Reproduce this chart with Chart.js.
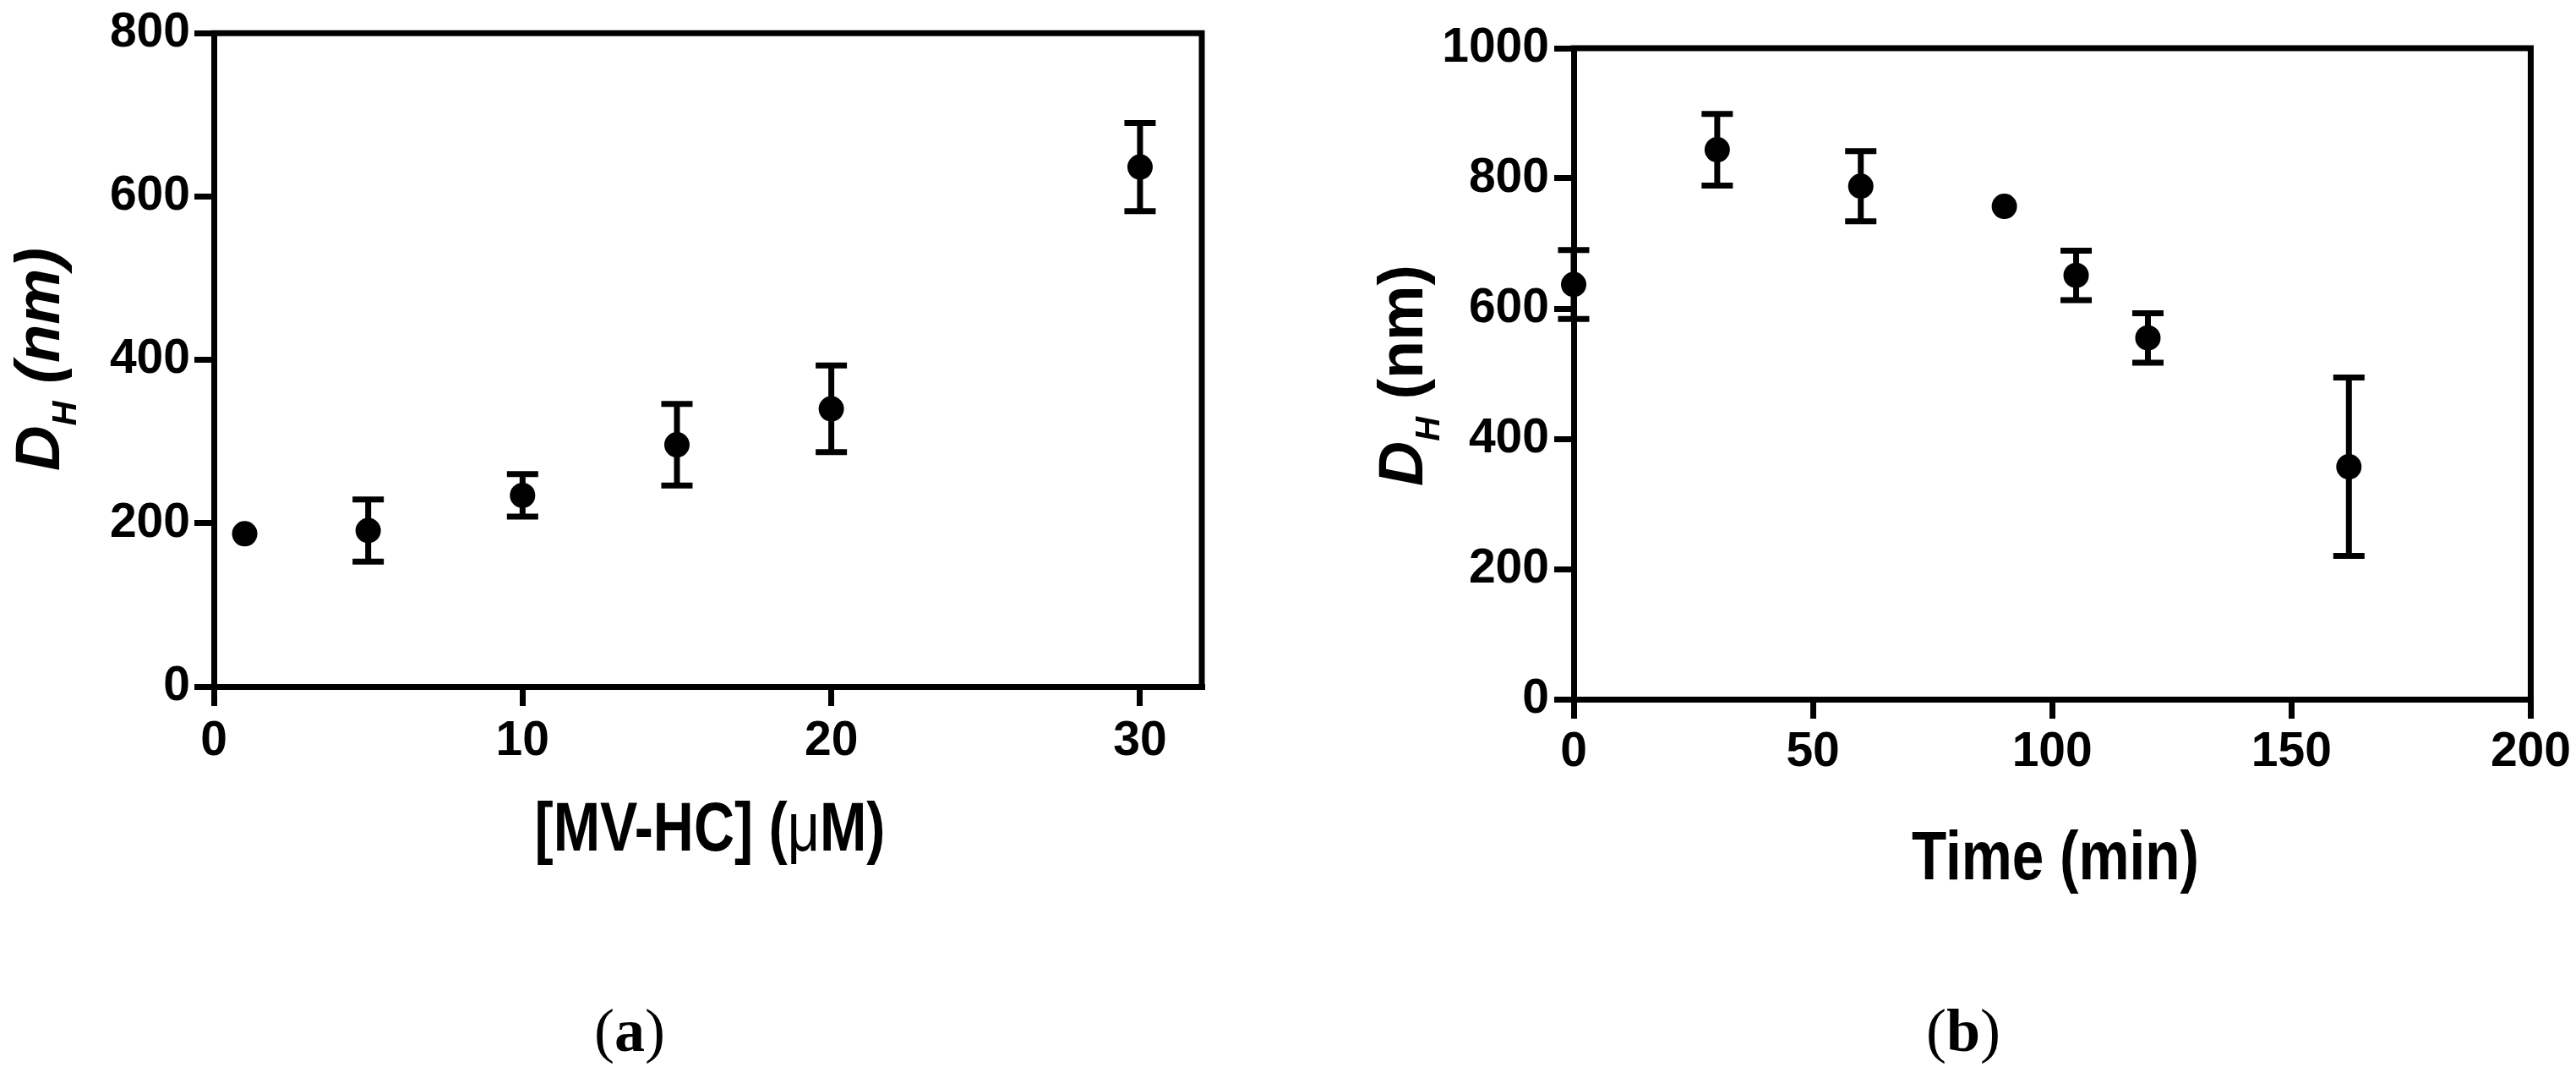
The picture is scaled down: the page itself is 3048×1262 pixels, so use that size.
<!DOCTYPE html>
<html><head><meta charset="utf-8">
<script src="https://cdn.jsdelivr.net/npm/chart.js@4.4.0/dist/chart.umd.min.js"></script>
<style>
html,body{margin:0;padding:0;background:#fff;width:3048px;height:1262px;overflow:hidden;}
canvas{position:absolute;top:0;}
#c1{left:0px} #c2{left:1524px}
.lab{position:absolute;font-family:"Liberation Serif","Times New Roman",serif;font-size:72px;color:#000;transform:translateX(-50%);line-height:1;white-space:nowrap;}
</style></head><body>
<canvas id="c1" width="1524" height="1262"></canvas>
<canvas id="c2" width="1524" height="1262"></canvas>
<div class="lab" style="left:745px;top:1183px">(<b>a</b>)</div>
<div class="lab" style="left:2323px;top:1183px">(<b>b</b>)</div>
<script>
// ---- data (panel a) ----
const concA = [1, 5, 10, 15, 20, 30];
const dhA   = [187, 191, 234, 296, 340, 636];
const errA  = [0, 38, 26, 50, 53, 54];
const xTicksA = [0, 10, 20, 30];
const yTicksA = [0, 200, 400, 600, 800];
// ---- data (panel b) ----
const timeB = [0, 30, 60, 90, 105, 120, 162];
const dhB   = [637, 844, 788, 757, 651, 555, 357];
const errB  = [53, 55, 54, 0, 38, 38, 137];
const xTicksB = [0, 50, 100, 150, 200];
const yTicksB = [0, 200, 400, 600, 800, 1000];

const FAM = '"Liberation Sans", Arial, Helvetica, sans-serif';
const LW = 7;

function drawRuns(ctx, runs, targetW) {
  let total = 0;
  runs.forEach(r => { ctx.font = r.font; r.w = ctx.measureText(r.t).width; total += r.w; });
  const sx = targetW / total;
  ctx.scale(sx, 1);
  let x = -total / 2;
  ctx.textBaseline = 'alphabetic';
  ctx.textAlign = 'left';
  runs.forEach(r => { ctx.font = r.font; ctx.fillText(r.t, x, r.dy || 0); x += r.w; });
}

function makeDecor(cfg) {
  return {
    id: 'decor_' + cfg.name,
    afterDatasetsDraw(chart) {
      const ctx = chart.ctx, ca = chart.chartArea;
      const xs = chart.scales.x, ys = chart.scales.y;
      ctx.save();
      ctx.fillStyle = '#000'; ctx.strokeStyle = '#000';
      // frame top & right
      ctx.lineWidth = LW; ctx.lineCap = 'square';
      ctx.beginPath();
      ctx.moveTo(ca.left, ca.top); ctx.lineTo(ca.right, ca.top); ctx.lineTo(ca.right, ca.bottom);
      ctx.stroke();
      // error bars
      ctx.lineCap = 'butt';
      cfg.xs.forEach((xv, i) => {
        const e = cfg.err[i];
        if (!e) return;
        const px = xs.getPixelForValue(xv);
        const pTop = ys.getPixelForValue(cfg.ys[i] + e);
        const pBot = ys.getPixelForValue(cfg.ys[i] - e);
        ctx.lineWidth = LW;
        ctx.beginPath();
        ctx.moveTo(px, pTop); ctx.lineTo(px, pBot);
        ctx.moveTo(px - 18.5, pTop); ctx.lineTo(px + 18.5, pTop);
        ctx.moveTo(px - 18.5, pBot); ctx.lineTo(px + 18.5, pBot);
        ctx.stroke();
      });
      ctx.restore();
      // x title
      ctx.save();
      ctx.fillStyle = '#000';
      ctx.translate(cfg.xt.cx, cfg.xt.base);
      drawRuns(ctx, cfg.xt.runs, cfg.xt.w);
      ctx.restore();
      // y title
      ctx.save();
      ctx.fillStyle = '#000';
      ctx.translate(cfg.yt.base, cfg.yt.cy);
      ctx.rotate(-Math.PI / 2);
      drawRuns(ctx, cfg.yt.runs, cfg.yt.w);
      ctx.restore();
    }
  };
}

function axisOpts(min, max, ticks, isY, sizePx, pad) {
  return {
    type: 'linear', min: min, max: max,
    afterBuildTicks: s => { s.ticks = ticks.map(v => ({ value: v })); },
    afterFit: s => { if (isY) s.width = sizePx; else s.height = sizePx; },
    border: { display: true, color: '#000', width: LW },
    grid: { display: true, drawOnChartArea: false, drawTicks: true, tickLength: 23,
            tickWidth: LW, tickColor: '#000', color: '#000', lineWidth: LW },
    ticks: { color: '#000', padding: pad, autoSkip: false, maxRotation: 0,
             callback: v => String(v),
             font: { family: FAM, size: 57, weight: 'bold' } },
    title: { display: false }
  };
}

function makeChart(id, xsArr, ysArr, errArr, xr, yr, xT, yT, area, decor) {
  const W = 1524, H = 1262;
  return new Chart(document.getElementById(id), {
    type: 'scatter',
    data: { datasets: [{
      data: xsArr.map((x, i) => ({ x: x, y: ysArr[i] })),
      backgroundColor: '#000', borderColor: '#000', borderWidth: 0,
      pointRadius: 15, pointHoverRadius: 15, showLine: false, clip: false
    }]},
    options: {
      responsive: false, animation: false, events: [],
      layout: { padding: { left: 0, top: area.top, right: W - area.right, bottom: 0 } },
      plugins: { legend: { display: false }, tooltip: { enabled: false } },
      scales: {
        x: axisOpts(xr[0], xr[1], xT, false, H - area.bottom, area.xpad),
        y: axisOpts(yr[0], yr[1], yT, true, area.left, area.ypad)
      }
    },
    plugins: [makeDecor(Object.assign({ xs: xsArr, ys: ysArr, err: errArr }, decor))]
  });
}

makeChart('c1', concA, dhA, errA, [0, 32], [0, 800], xTicksA, yTicksA,
  { left: 253, right: 1422, top: 35, bottom: 812, xpad: 8, ypad: 5 },
  { name: 'a',
    xt: { cx: 840, base: 1006, w: 415, runs: [
      { t: '[MV-HC] (', font: 'bold 82px ' + FAM },
      { t: '\u03BC', font: '82px ' + FAM },
      { t: 'M)', font: 'bold 82px ' + FAM } ] },
    yt: { base: 70, cy: 425, w: 264, runs: [
      { t: 'D', font: 'italic bold 74px ' + FAM },
      { t: 'H', font: 'italic bold 40px ' + FAM, dy: 20 },
      { t: ' (nm)', font: 'italic bold 74px ' + FAM } ] } });

makeChart('c2', timeB, dhB, errB, [0, 200], [0, 1000], xTicksB, yTicksB,
  { left: 338, right: 1472, top: 57, bottom: 827, xpad: 6, ypad: 6 },
  { name: 'b',
    xt: { cx: 908, base: 1040, w: 340, runs: [
      { t: 'Time (min)', font: 'bold 82px ' + FAM } ] },
    yt: { base: 159, cy: 444, w: 262, runs: [
      { t: 'D', font: 'italic bold 74px ' + FAM },
      { t: 'H', font: 'italic bold 40px ' + FAM, dy: 20 },
      { t: ' (nm)', font: 'bold 74px ' + FAM } ] } });
</script>
</body></html>
